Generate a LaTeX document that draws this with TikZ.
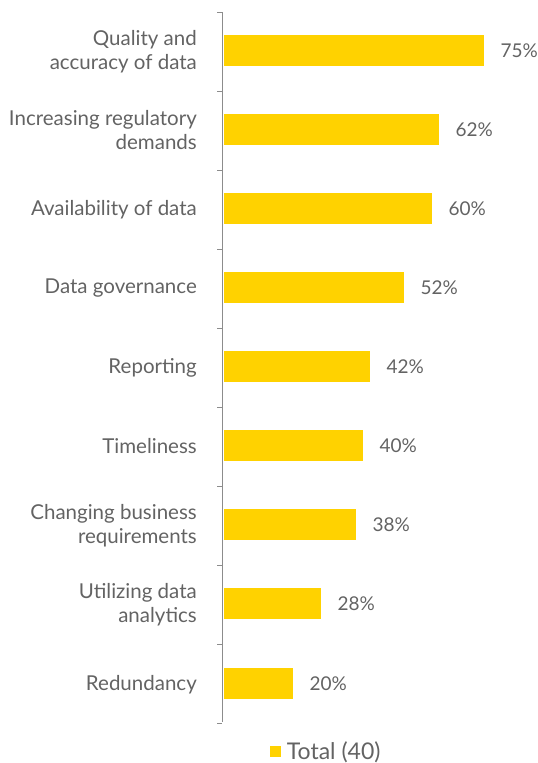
\documentclass[tikz,border=0pt]{standalone}
\usepackage{fontspec}
\setmainfont{Lato}
\usetikzlibrary{positioning}
\definecolor{eyyellow}{HTML}{FFD200}
\definecolor{labelgray}{HTML}{636363}
\definecolor{axisgray}{HTML}{8C8C8C}
\newcommand{\chartfont}{\fontsize{20.5}{24}\selectfont}
\newcommand{\pctfont}{\fontsize{19}{24}\selectfont}

\begin{document}
\begin{tikzpicture}[x=1pt,y=-1pt,
    bar/.style={fill=eyyellow,inner sep=0pt,minimum height=31pt,anchor=west},
    cat/.style={anchor=east,align=right,text=labelgray,font=\chartfont,inner sep=0pt,yshift=-1.5pt},
    pct/.style={anchor=west,text=labelgray,font=\pctfont,inner sep=0pt,yshift=-1pt}]
  \useasboundingbox(0,0)rectangle(538,763);
  \draw[axisgray,semithick](222,12)--(222,722);
  \foreach \t in {0,...,9}
    \draw[axisgray,semithick](217,12+79*\t)--(222,12+79*\t);
  \node[bar,minimum width=260pt](b1) at (224,50){};
  \node[bar,minimum width=215pt](b2) at (224,129){};
  \node[bar,minimum width=208pt](b3) at (224,208){};
  \node[bar,minimum width=180pt](b4) at (224,287){};
  \node[bar,minimum width=146pt](b5) at (224,366){};
  \node[bar,minimum width=139pt](b6) at (224,445){};
  \node[bar,minimum width=132pt](b7) at (224,524){};
  \node[bar,minimum width=97pt](b8) at (224,603){};
  \node[bar,minimum width=69pt](b9) at (224,683){};
  \node[pct,right=16pt of b1](p1){75\%};
  \node[pct,right=16pt of b2](p2){62\%};
  \node[pct,right=16pt of b3](p3){60\%};
  \node[pct,right=16pt of b4](p4){52\%};
  \node[pct,right=16pt of b5](p5){42\%};
  \node[pct,right=16pt of b6](p6){40\%};
  \node[pct,right=16pt of b7](p7){38\%};
  \node[pct,right=16pt of b8](p8){28\%};
  \node[pct,right=16pt of b9](p9){20\%};
  \node[cat](c1) at (197,50){Quality and\\accuracy of data};
  \node[cat](c2) at (197,129){Increasing regulatory\\demands};
  \node[cat](c3) at (197,208){Availability of data};
  \node[cat](c4) at (197,287){Data governance};
  \node[cat](c5) at (197,366){Reporting};
  \node[cat](c6) at (197,445){Timeliness};
  \node[cat](c7) at (197,524){Changing business\\requirements};
  \node[cat](c8) at (197,603){Utilizing data\\analytics};
  \node[cat](c9) at (197,683){Redundancy};
  \node[fill=eyyellow,inner sep=0pt,minimum size=11pt](lg) at (275,751){};
  \node[pct,right=6pt of lg,font=\fontsize{23}{26}\selectfont](lt){Total (40)};
\end{tikzpicture}
\end{document}
